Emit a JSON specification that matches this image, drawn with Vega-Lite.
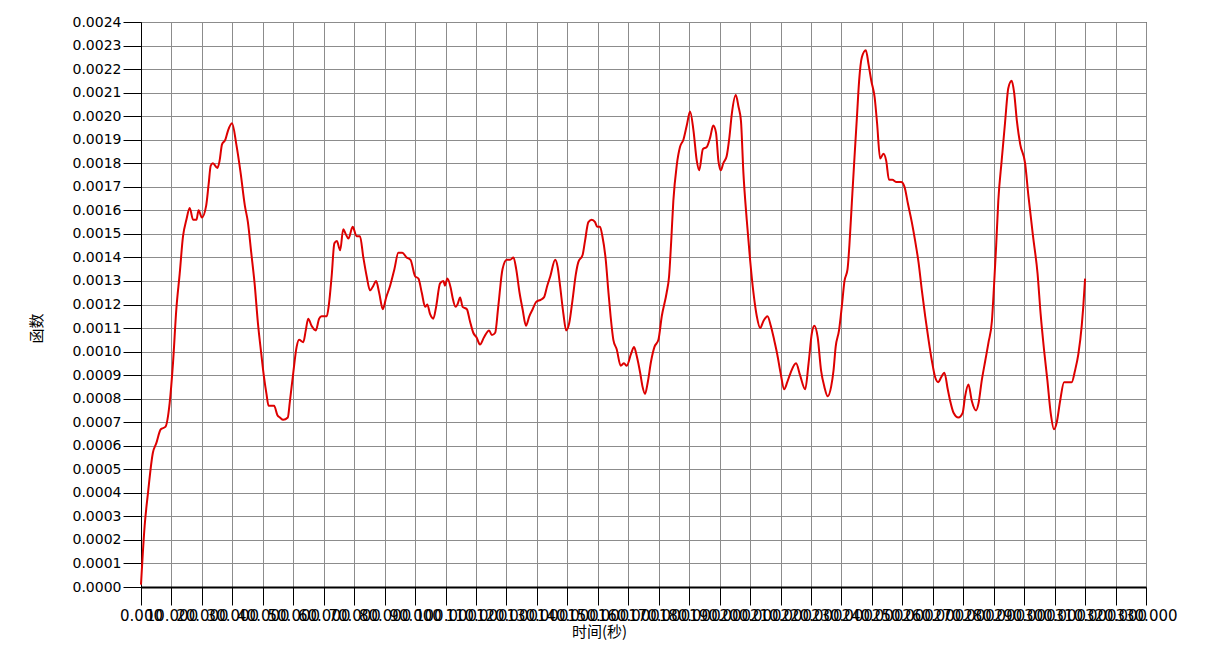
{
  "$schema": "https://vega.github.io/schema/vega-lite/v6.json",
  "width": 1005,
  "height": 565,
  "autosize": {"type": "none"},
  "padding": {"left": 141, "top": 22, "right": 59, "bottom": 67},
  "background": "white",
  "config": {
    "view": {"stroke": "#000000", "strokeWidth": 1},
    "axis": {"labelFont": "DejaVu Sans", "labelColor": "#000000", "titleColor": "#000000", "gridColor": "#8c8c8c", "gridWidth": 1, "gridOpacity": 1, "tickColor": "#000000", "domainColor": "#000000"}
  },
  "data": {"values": [
    {"t":0,"v":0.00001},{"t":1.2,"v":0.00026},{"t":2.3,"v":0.0004},{"t":3.9,"v":0.00057},{"t":5.0,"v":0.00061},{"t":6.5,"v":0.00067},{"t":8.0,"v":0.00068},{"t":9.4,"v":0.00078},{"t":10.5,"v":0.00095},{"t":11.6,"v":0.00118},{"t":12.7,"v":0.00133},{"t":13.8,"v":0.00149},{"t":14.9,"v":0.00156},{"t":16.0,"v":0.00161},{"t":17.1,"v":0.00156},{"t":18.2,"v":0.00156},{"t":18.9,"v":0.0016},{"t":20.0,"v":0.00157},{"t":21.4,"v":0.00162},{"t":22.2,"v":0.00171},{"t":22.9,"v":0.00179},{"t":23.6,"v":0.0018},{"t":25.1,"v":0.00178},{"t":25.8,"v":0.00181},{"t":26.6,"v":0.00188},{"t":27.7,"v":0.0019},{"t":28.6,"v":0.00194},{"t":29.9,"v":0.00197},{"t":31.3,"v":0.00188},{"t":32.7,"v":0.00176},{"t":34.1,"v":0.00162},{"t":35.1,"v":0.00155},{"t":36.2,"v":0.00142},{"t":37.3,"v":0.00129},{"t":38.4,"v":0.00112},{"t":39.5,"v":0.00099},{"t":40.4,"v":0.00089},{"t":41.2,"v":0.00082},{"t":41.9,"v":0.00077},{"t":42.8,"v":0.00077},{"t":43.7,"v":0.00077},{"t":44.8,"v":0.00073},{"t":45.6,"v":0.00072},{"t":46.7,"v":0.00071},{"t":48.2,"v":0.00072},{"t":48.9,"v":0.00079},{"t":50.0,"v":0.00091},{"t":51.1,"v":0.00102},{"t":51.9,"v":0.00105},{"t":53.3,"v":0.00104},{"t":54.1,"v":0.00109},{"t":54.9,"v":0.00114},{"t":56.0,"v":0.00111},{"t":57.4,"v":0.00109},{"t":58.5,"v":0.00114},{"t":59.3,"v":0.00115},{"t":61.0,"v":0.00115},{"t":61.7,"v":0.0012},{"t":62.6,"v":0.00132},{"t":63.5,"v":0.00146},{"t":64.3,"v":0.00147},{"t":65.4,"v":0.00143},{"t":66.4,"v":0.00152},{"t":67.2,"v":0.0015},{"t":68.1,"v":0.00148},{"t":69.5,"v":0.00153},{"t":70.8,"v":0.00149},{"t":71.9,"v":0.00149},{"t":73.0,"v":0.0014},{"t":74.1,"v":0.00132},{"t":75.2,"v":0.00126},{"t":76.3,"v":0.00128},{"t":77.2,"v":0.0013},{"t":78.2,"v":0.00125},{"t":79.4,"v":0.00118},{"t":80.5,"v":0.00123},{"t":81.8,"v":0.00128},{"t":83.2,"v":0.00135},{"t":84.5,"v":0.00142},{"t":85.8,"v":0.00142},{"t":87.2,"v":0.0014},{"t":88.5,"v":0.00139},{"t":90.0,"v":0.00132},{"t":91.1,"v":0.00131},{"t":92.2,"v":0.00125},{"t":93.3,"v":0.00119},{"t":94.0,"v":0.0012},{"t":94.9,"v":0.00116},{"t":96.0,"v":0.00114},{"t":96.9,"v":0.00119},{"t":98.2,"v":0.00129},{"t":99.3,"v":0.0013},{"t":99.8,"v":0.00128},{"t":100.6,"v":0.00131},{"t":101.7,"v":0.00127},{"t":102.3,"v":0.00123},{"t":103.3,"v":0.00119},{"t":103.9,"v":0.0012},{"t":104.8,"v":0.00123},{"t":105.6,"v":0.00119},{"t":107.0,"v":0.00118},{"t":108.0,"v":0.00113},{"t":109.1,"v":0.00108},{"t":110.2,"v":0.00106},{"t":111.3,"v":0.00103},{"t":112.6,"v":0.00106},{"t":114.3,"v":0.00109},{"t":115.2,"v":0.00107},{"t":116.3,"v":0.00108},{"t":117.3,"v":0.00119},{"t":118.7,"v":0.00135},{"t":120.1,"v":0.00139},{"t":121.2,"v":0.00139},{"t":122.3,"v":0.0014},{"t":123.2,"v":0.00135},{"t":124.3,"v":0.00125},{"t":125.3,"v":0.00118},{"t":126.4,"v":0.00111},{"t":127.5,"v":0.00115},{"t":128.6,"v":0.00118},{"t":129.7,"v":0.00121},{"t":131.2,"v":0.00122},{"t":132.3,"v":0.00123},{"t":133.4,"v":0.00128},{"t":134.4,"v":0.00132},{"t":136.0,"v":0.00139},{"t":136.8,"v":0.00136},{"t":137.6,"v":0.00128},{"t":138.7,"v":0.00116},{"t":139.6,"v":0.00109},{"t":140.6,"v":0.00112},{"t":141.7,"v":0.00122},{"t":142.8,"v":0.00133},{"t":143.6,"v":0.00138},{"t":145.0,"v":0.00141},{"t":145.8,"v":0.00147},{"t":146.9,"v":0.00155},{"t":148.0,"v":0.00156},{"t":149.1,"v":0.00155},{"t":149.8,"v":0.00153},{"t":150.7,"v":0.00153},{"t":151.5,"v":0.00149},{"t":152.6,"v":0.00139},{"t":153.5,"v":0.00125},{"t":154.2,"v":0.00115},{"t":155.1,"v":0.00105},{"t":156.2,"v":0.00101},{"t":157.5,"v":0.00094},{"t":158.6,"v":0.00095},{"t":159.5,"v":0.00094},{"t":160.9,"v":0.00099},{"t":161.9,"v":0.00102},{"t":162.8,"v":0.00098},{"t":163.9,"v":0.00091},{"t":164.7,"v":0.00085},{"t":165.5,"v":0.00082},{"t":166.4,"v":0.00087},{"t":167.5,"v":0.00096},{"t":168.6,"v":0.00102},{"t":169.9,"v":0.00105},{"t":171.0,"v":0.00115},{"t":172.6,"v":0.00125},{"t":173.4,"v":0.00132},{"t":174.1,"v":0.00147},{"t":174.8,"v":0.00164},{"t":175.9,"v":0.00179},{"t":177.0,"v":0.00187},{"t":178.1,"v":0.0019},{"t":179.2,"v":0.00196},{"t":180.3,"v":0.00202},{"t":181.4,"v":0.00194},{"t":182.5,"v":0.00181},{"t":183.3,"v":0.00177},{"t":184.5,"v":0.00186},{"t":185.8,"v":0.00187},{"t":186.9,"v":0.00191},{"t":187.9,"v":0.00196},{"t":188.8,"v":0.00193},{"t":189.6,"v":0.00181},{"t":190.4,"v":0.00177},{"t":191.2,"v":0.0018},{"t":192.3,"v":0.00183},{"t":193.2,"v":0.00191},{"t":194.0,"v":0.00201},{"t":195.3,"v":0.00209},{"t":196.2,"v":0.00204},{"t":197.0,"v":0.00198},{"t":197.8,"v":0.00176},{"t":198.9,"v":0.00156},{"t":200.0,"v":0.00139},{"t":201.1,"v":0.00125},{"t":202.2,"v":0.00115},{"t":203.3,"v":0.0011},{"t":204.4,"v":0.00113},{"t":205.7,"v":0.00115},{"t":206.8,"v":0.00111},{"t":207.9,"v":0.00105},{"t":208.9,"v":0.00099},{"t":210.0,"v":0.00091},{"t":211.2,"v":0.00084},{"t":212.2,"v":0.00087},{"t":213.3,"v":0.00091},{"t":215.1,"v":0.00095},{"t":216.4,"v":0.0009},{"t":218.1,"v":0.00084},{"t":219.2,"v":0.00095},{"t":220.3,"v":0.00108},{"t":221.1,"v":0.00111},{"t":222.2,"v":0.00106},{"t":223.3,"v":0.00092},{"t":224.4,"v":0.00085},{"t":225.5,"v":0.00081},{"t":226.6,"v":0.00085},{"t":227.4,"v":0.00092},{"t":228.1,"v":0.00102},{"t":229.2,"v":0.00109},{"t":230.1,"v":0.00119},{"t":231.0,"v":0.0013},{"t":232.0,"v":0.00135},{"t":232.6,"v":0.00145},{"t":233.4,"v":0.00163},{"t":234.3,"v":0.00183},{"t":235.1,"v":0.002},{"t":235.8,"v":0.00215},{"t":236.7,"v":0.00225},{"t":238.0,"v":0.00228},{"t":238.9,"v":0.00222},{"t":239.8,"v":0.00215},{"t":240.9,"v":0.00208},{"t":241.7,"v":0.00197},{"t":242.7,"v":0.00182},{"t":243.8,"v":0.00184},{"t":244.7,"v":0.00181},{"t":245.6,"v":0.00173},{"t":246.7,"v":0.00173},{"t":248.1,"v":0.00172},{"t":249.6,"v":0.00172},{"t":250.7,"v":0.0017},{"t":251.8,"v":0.00163},{"t":253.1,"v":0.00155},{"t":254.2,"v":0.00147},{"t":255.3,"v":0.00138},{"t":256.4,"v":0.00126},{"t":257.5,"v":0.00115},{"t":258.6,"v":0.00105},{"t":259.7,"v":0.00096},{"t":260.8,"v":0.00089},{"t":261.8,"v":0.00087},{"t":262.7,"v":0.00089},{"t":263.8,"v":0.00091},{"t":264.9,"v":0.00084},{"t":265.7,"v":0.00079},{"t":266.8,"v":0.00074},{"t":268.4,"v":0.00072},{"t":269.8,"v":0.00074},{"t":270.6,"v":0.00081},{"t":271.7,"v":0.00086},{"t":272.8,"v":0.00079},{"t":274.2,"v":0.00075},{"t":275.0,"v":0.00078},{"t":276.1,"v":0.00088},{"t":277.2,"v":0.00096},{"t":278.3,"v":0.00104},{"t":279.4,"v":0.00113},{"t":280.1,"v":0.00128},{"t":280.8,"v":0.00145},{"t":281.5,"v":0.00164},{"t":282.6,"v":0.00181},{"t":283.7,"v":0.00197},{"t":284.8,"v":0.00212},{"t":285.9,"v":0.00215},{"t":286.7,"v":0.0021},{"t":287.6,"v":0.00198},{"t":288.7,"v":0.00188},{"t":290.3,"v":0.0018},{"t":291.4,"v":0.00166},{"t":292.9,"v":0.00149},{"t":294.4,"v":0.00133},{"t":295.4,"v":0.00116},{"t":296.5,"v":0.00101},{"t":297.6,"v":0.00088},{"t":298.7,"v":0.00074},{"t":299.8,"v":0.00067},{"t":300.7,"v":0.0007},{"t":301.8,"v":0.00079},{"t":303.1,"v":0.00087},{"t":304.5,"v":0.00087},{"t":305.6,"v":0.00087},{"t":306.7,"v":0.00092},{"t":307.8,"v":0.00099},{"t":308.9,"v":0.00111},{"t":309.4,"v":0.00119},{"t":310.0,"v":0.00131}
  ]},
  "mark": {"type": "line", "color": "#dd0000", "strokeWidth": 2, "interpolate": "monotone"},
  "encoding": {
    "x": {
      "field": "t", "type": "quantitative",
      "scale": {"domain": [0, 330], "nice": false, "zero": false},
      "axis": {
        "title": "时间(秒)", "titleFont": "Noto Sans CJK SC", "titleFontSize": 15, "titleFontWeight": "normal",
        "titleX": 458, "titleY": 52, "titleBaseline": "bottom", "titleAlign": "center",
        "values": [0,10,20,30,40,50,60,70,80,90,100,110,120,130,140,150,160,170,180,190,200,210,220,230,240,250,260,270,280,290,300,310,320,330],
        "format": ".3f", "labelOverlap": false, "labelFontSize": 15, "labelPadding": 3, "labelFlush": false,
        "tickSize": 18, "tickWidth": 1, "domainWidth": 2, "grid": true
      }
    },
    "y": {
      "field": "v", "type": "quantitative",
      "scale": {"domain": [0, 0.0024], "nice": false},
      "axis": {
        "title": "函数", "titleFont": "Noto Sans CJK SC", "titleFontSize": 15, "titleFontWeight": "normal",
        "titleX": -105, "titleY": 306, "titleAlign": "center", "titleBaseline": "middle",
        "values": [0,0.0001,0.0002,0.0003,0.0004,0.0005,0.0006,0.0007,0.0008,0.0009,0.001,0.0011,0.0012,0.0013,0.0014,0.0015,0.0016,0.0017,0.0018,0.0019,0.002,0.0021,0.0022,0.0023,0.0024],
        "format": ".4f", "labelOverlap": false, "labelFontSize": 14, "labelPadding": 2, "labelFlush": false,
        "tickSize": 18, "tickWidth": 1, "domainWidth": 1, "grid": true
      }
    }
  }
}
